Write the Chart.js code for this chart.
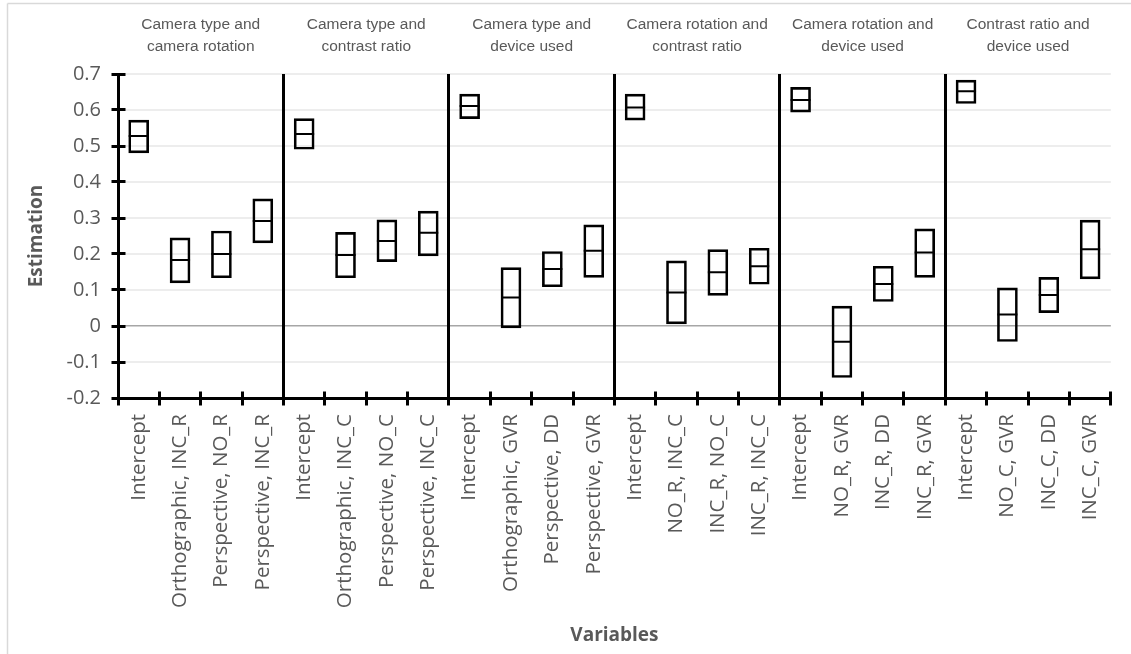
<!DOCTYPE html>
<html>
<head>
<meta charset="utf-8">
<script src="https://cdn.jsdelivr.net/npm/chart.js@4"></script>
<style>
  html, body { margin: 0; padding: 0; background: #fff; }
  #wrap { width: 1131px; height: 654px; position: relative; }
</style>
</head>
<body>
<div id="wrap"><canvas id="c" width="1131" height="654"></canvas></div>
<script>
// Model effects: one box per term, spanning lower..upper, line at the estimate
const groupTitles = [
  ['Camera type and', 'camera rotation'],
  ['Camera type and', 'contrast ratio'],
  ['Camera type and', 'device used'],
  ['Camera rotation and', 'contrast ratio'],
  ['Camera rotation and', 'device used'],
  ['Contrast ratio and', 'device used']
];

const categories = [
  'Intercept', 'Orthographic, INC_R', 'Perspective, NO_R', 'Perspective, INC_R',
  'Intercept', 'Orthographic, INC_C', 'Perspective, NO_C', 'Perspective, INC_C',
  'Intercept', 'Orthographic, GVR', 'Perspective, DD', 'Perspective, GVR',
  'Intercept', 'NO_R, INC_C', 'INC_R, NO_C', 'INC_R, INC_C',
  'Intercept', 'NO_R, GVR', 'INC_R, DD', 'INC_R, GVR',
  'Intercept', 'NO_C, GVR', 'INC_C, DD', 'INC_C, GVR'
];

const estimate = [
  0.528, 0.183, 0.200, 0.292,
  0.533, 0.197, 0.236, 0.259,
  0.611, 0.079, 0.158, 0.209,
  0.607, 0.093, 0.149, 0.166,
  0.628, -0.044, 0.117, 0.204,
  0.652, 0.032, 0.086, 0.213
];

const lower = [
  0.481, 0.120, 0.134, 0.231,
  0.491, 0.134, 0.179, 0.195,
  0.576, -0.005, 0.109, 0.135,
  0.572, 0.006, 0.085, 0.116,
  0.594, -0.143, 0.068, 0.135,
  0.618, -0.043, 0.037, 0.131
];

const upper = [
  0.572, 0.245, 0.264, 0.353,
  0.576, 0.260, 0.295, 0.319,
  0.644, 0.162, 0.207, 0.281,
  0.644, 0.181, 0.212, 0.216,
  0.663, 0.055, 0.166, 0.270,
  0.683, 0.106, 0.135, 0.294
];

const yTicks = [-0.2, -0.1, 0, 0.1, 0.2, 0.3, 0.4, 0.5, 0.6, 0.7];
const termsPerGroup = 4;

const labelFont = '"Open Sans", "DejaVu Sans", sans-serif';
const titleFont = '"Liberation Sans", Arial, sans-serif';
const grey = '#595959';

function seg(ctx, x1, y1, x2, y2) {
  ctx.beginPath(); ctx.moveTo(x1, y1); ctx.lineTo(x2, y2); ctx.stroke();
}
// centre a 3px stroke on a whole pixel so it stays crisp
const snap = v => Math.round(v - 0.5) + 0.5;

// Axes with crossing ticks, group dividers, group headings and axis titles
const decorations = {
  id: 'decorations',
  beforeDraw(chart) {
    const ctx = chart.ctx;
    ctx.save();
    ctx.fillStyle = '#fff';
    ctx.fillRect(0, 0, chart.width, chart.height);
    ctx.strokeStyle = '#d9d9d9';
    ctx.lineWidth = 1.5;
    seg(ctx, 7.5, 3.5, 7.5, chart.height);
    seg(ctx, 7.5, 3.5, chart.width, 3.5);
    ctx.restore();
  },
  afterDraw(chart) {
    const { ctx, chartArea: a, scales: { x, y } } = chart;
    const step = x.getPixelForValue(1) - x.getPixelForValue(0);
    const first = x.getPixelForValue(0) - step / 2;
    const left = snap(a.left), bottom = snap(a.bottom);
    ctx.save();
    ctx.strokeStyle = '#000';
    ctx.lineWidth = 3;
    ctx.lineCap = 'butt';
    // vertical axis
    seg(ctx, left, a.top, left, bottom + 1.5);
    yTicks.forEach(v => {
      const py = snap(y.getPixelForValue(v));
      seg(ctx, left - 7, py, left + 7, py);
    });
    // horizontal axis with ticks between categories
    seg(ctx, left - 1.5, bottom, a.right, bottom);
    for (let k = 0; k <= categories.length; k++) {
      const px = snap(first + k * step);
      seg(ctx, px, bottom - 7, px, bottom + 7);
    }
    // dividers between effect groups
    for (let g = 1; g < groupTitles.length; g++) {
      const px = snap(first + g * termsPerGroup * step);
      seg(ctx, px, a.top, px, bottom);
    }
    // group headings
    ctx.fillStyle = grey;
    ctx.font = '15.5px ' + titleFont;
    ctx.textAlign = 'center';
    ctx.textBaseline = 'middle';
    groupTitles.forEach((lines, g) => {
      const cx = first + (g + 0.5) * termsPerGroup * step;
      ctx.fillText(lines[0], cx, 25);
      ctx.fillText(lines[1], cx, 47);
    });
    // axis titles
    ctx.font = 'bold 19px ' + labelFont;
    ctx.fillText('Variables', (a.left + a.right) / 2, 636);
    ctx.translate(37, (a.top + a.bottom) / 2);
    ctx.rotate(-Math.PI / 2);
    ctx.fillText('Estimation', 0, 0);
    ctx.restore();
  }
};

new Chart(document.getElementById('c'), {
  type: 'bar',
  data: {
    labels: categories,
    datasets: [
      {
        type: 'bar',
        data: lower.map((lo, i) => [lo, upper[i]]),
        backgroundColor: 'rgba(0,0,0,0)',
        borderColor: '#000',
        borderWidth: 2,
        borderSkipped: false,
        barThickness: 20,
        order: 2
      },
      {
        type: 'line',
        data: estimate,
        showLine: false,
        pointStyle: 'line',
        pointRadius: 10,
        pointHoverRadius: 10,
        pointBorderWidth: 2,
        borderColor: '#000',
        backgroundColor: '#000',
        order: 1
      }
    ]
  },
  options: {
    responsive: false,
    animation: false,
    events: [],
    layout: { padding: { top: 74, right: 11, left: 0, bottom: 0 } },
    plugins: {
      legend: { display: false },
      tooltip: { enabled: false },
      title: { display: false }
    },
    scales: {
      x: {
        type: 'category',
        offset: true,
        grid: { display: false, drawTicks: false },
        border: { display: false },
        ticks: {
          autoSkip: false,
          minRotation: 90,
          maxRotation: 90,
          padding: 16,
          color: grey,
          font: { family: labelFont, size: 20.5 }
        },
        afterFit(scale) { scale.height = 256; }
      },
      y: {
        min: -0.2,
        max: 0.7,
        afterBuildTicks(scale) { scale.ticks = yTicks.map(v => ({ value: v })); },
        grid: {
          drawTicks: false,
          color: ctx => (ctx.tick && ctx.tick.value === 0) ? '#a6a6a6' : '#ededed',
          lineWidth: ctx => (ctx.tick && ctx.tick.value === 0) ? 1.5 : 2
        },
        border: { display: false },
        ticks: {
          padding: 17,
          color: grey,
          font: { family: labelFont, size: 20 },
          callback: v => String(Number(v.toFixed(1)))
        },
        afterFit(scale) { scale.width = 118; }
      }
    }
  },
  plugins: [decorations]
});
</script>
</body>
</html>
